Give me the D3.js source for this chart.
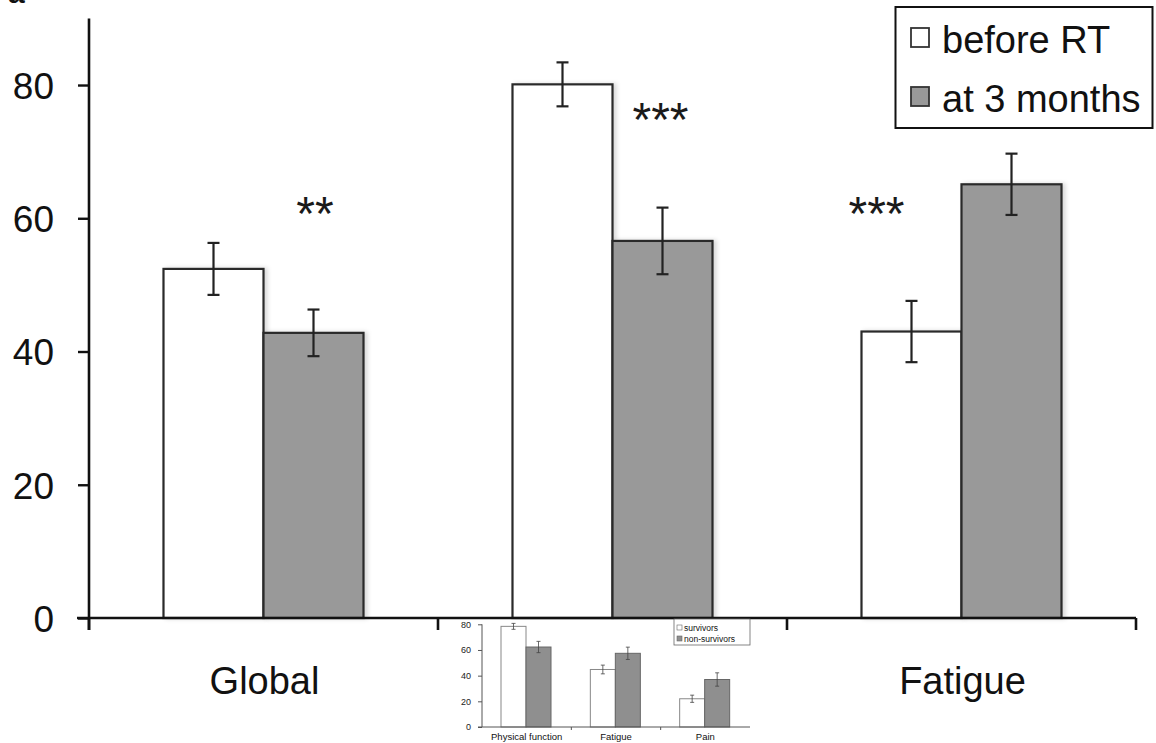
<!DOCTYPE html>
<html><head><meta charset="utf-8">
<script src="https://cdn.jsdelivr.net/npm/d3@7"></script>
<style>html,body{margin:0;padding:0;background:#fff;}svg{display:block;font-family:"Liberation Sans",Arial,sans-serif;}</style>
</head><body>
<script>
// ---- main chart data ----
const categories = ["Global", "Physical function", "Fatigue"];
const seriesNames = ["before RT", "at 3 months"];
const beforeRT = [52.4, 80.1, 43.0];
const beforeErr = [3.9, 3.3, 4.6];
const at3Months = [42.8, 56.6, 65.1];
const at3Err = [3.5, 5.0, 4.6];
const significance = ["**", "***", "***"];
const yTicks = [0, 20, 40, 60, 80];

// ---- inset chart data ----
const insetCategories = ["Physical function", "Fatigue", "Pain"];
const insetSeriesNames = ["survivors", "non-survivors"];
const survivors = [78.4, 44.8, 22.0];
const survivorsErr = [2.3, 3.4, 2.8];
const nonSurvivors = [62.3, 57.4, 37.0];
const nonSurvivorsErr = [4.4, 4.8, 5.2];
const insetTicks = [0, 20, 40, 60, 80];

const W = 1156, H = 743;
const svg = d3.select("body").append("svg").attr("width", W).attr("height", H);

const defs = svg.append("defs");
const f = defs.append("filter").attr("id","sh").attr("x","-10%").attr("y","-10%").attr("width","130%").attr("height","120%");
f.append("feDropShadow").attr("dx",3).attr("dy",0).attr("stdDeviation",2).attr("flood-color","#000").attr("flood-opacity",0.15);

// partial panel letter at top-left (cut off by the top edge, as in the source)
svg.append("text").attr("x", 8).attr("y", 3).attr("font-size", 30).attr("font-weight","bold").attr("fill","#111").text("a");

// ---- main scales ----
const y = d3.scaleLinear().domain([0, 90]).range([618, 18.4]);
const x = d3.scaleBand().domain(categories).range([89, 1136]).paddingInner(0).paddingOuter(0);
const xs = d3.scaleBand().domain(seriesNames).range([74.5, 274.5]).padding(0);
const fills = {"before RT": "#ffffff", "at 3 months": "#999999"};

const rows = categories.map((c, i) => ({c, vals: [
  {s: seriesNames[0], v: beforeRT[i], e: beforeErr[i]},
  {s: seriesNames[1], v: at3Months[i], e: at3Err[i]}]}));

const g = svg.append("g");
const cg = g.selectAll("g.cat").data(rows).join("g").attr("transform", d => `translate(${x(d.c)},0)`);
cg.selectAll("rect").data(d => d.vals).join("rect")
  .attr("x", d => xs(d.s)).attr("width", xs.bandwidth())
  .attr("y", d => y(d.v)).attr("height", d => y(0) - y(d.v))
  .attr("fill", d => fills[d.s]).attr("stroke", "#2a2a2a").attr("stroke-width", 2.2)
  .attr("filter", "url(#sh)");
// error bars
const eb = cg.selectAll("g.eb").data(d => d.vals).join("g")
  .attr("transform", d => `translate(${xs(d.s) + xs.bandwidth()/2},0)`)
  .attr("stroke", "#222").attr("stroke-width", 2.2);
eb.append("line").attr("y1", d => y(d.v + d.e)).attr("y2", d => y(d.v - d.e));
eb.append("line").attr("x1", -6).attr("x2", 6).attr("y1", d => y(d.v + d.e)).attr("y2", d => y(d.v + d.e));
eb.append("line").attr("x1", -6).attr("x2", 6).attr("y1", d => y(d.v - d.e)).attr("y2", d => y(d.v - d.e));

// significance stars (label anchor: offset in band, baseline in data units)
const starDx = [226, 222.5, 89.5];
const starBase = [58.3, 72.4, 58.3];
g.selectAll("text.sig").data(significance).join("text").attr("class","sig")
  .attr("x", (d, i) => x(categories[i]) + starDx[i])
  .attr("y", (d, i) => y(starBase[i]))
  .attr("text-anchor", "middle").attr("font-size", 48).attr("fill", "#1a1a1a")
  .attr("font-family", "'Liberation Sans',Arial,sans-serif")
  .text(d => d);

// axes
const yAxis = d3.axisLeft(y).tickValues(yTicks).tickSize(11).tickPadding(24).tickFormat(d3.format("d"));
const ya = svg.append("g").attr("transform", "translate(89,0)").call(yAxis);
ya.select(".domain").attr("stroke", "#111").attr("stroke-width", 2.6).attr("d", `M0,${y(90)}V${y(0)+12}`);
ya.selectAll(".tick line").attr("stroke", "#111").attr("stroke-width", 2.4);
ya.selectAll(".tick text").attr("font-size", 37).attr("fill", "#111").attr("font-family", "'Liberation Sans',Arial,sans-serif").attr("dy", "0.36em");

const xAxis = d3.axisBottom(x).tickSize(0).tickFormat("");
const xa = svg.append("g").attr("transform", `translate(0,${y(0)})`).call(xAxis);
xa.select(".domain").attr("stroke", "#111").attr("stroke-width", 2.6).attr("d", "M77,0H1136");
const bTicks = [x.range()[0]].concat(categories.map(c => x(c) + x.bandwidth()));
xa.selectAll("line.bt").data(bTicks).join("line").attr("class","bt")
  .attr("x1", d => d).attr("x2", d => d).attr("y1", 0).attr("y2", 12)
  .attr("stroke", "#111").attr("stroke-width", 2.6);
svg.selectAll("text.cat").data(categories).join("text").attr("class","cat")
  .attr("x", d => x(d) + x.bandwidth()/2 + 1).attr("y", 694)
  .attr("text-anchor","middle").attr("font-size", 38).attr("fill","#111").text(d => d);

// legend
const lg = svg.append("g");
lg.append("rect").attr("x", 895.5).attr("y", 7).attr("width", 257).attr("height", 121)
  .attr("fill", "#fff").attr("stroke", "#111").attr("stroke-width", 2);
const li = lg.selectAll("g.li").data(seriesNames).join("g").attr("transform", (d, i) => `translate(911,${28 + i*59})`);
li.append("rect").attr("width", 18).attr("height", 19).attr("fill", d => fills[d]).attr("stroke", "#333").attr("stroke-width", 1.8);
li.append("text").attr("x", 31).attr("y", 25).attr("font-size", 38).attr("fill","#111").text(d => d);

// ---- inset ----
const ins = svg.append("g");
ins.append("rect").attr("x", 440).attr("y", 620).attr("width", 330).attr("height", 123).attr("fill", "#fff");
const iy = d3.scaleLinear().domain([0, 80]).range([727, 624.3]);
const ix = d3.scaleBand().domain(insetCategories).range([482, 750]).padding(0);
const ixs = d3.scaleBand().domain(insetSeriesNames).range([19, 69]).padding(0);
const ifills = {"survivors": "#ffffff", "non-survivors": "#8f8f8f"};
const istroke = {"survivors": "#888", "non-survivors": "#666"};
const irows = insetCategories.map((c, i) => ({c, vals: [
  {s: insetSeriesNames[0], v: survivors[i], e: survivorsErr[i]},
  {s: insetSeriesNames[1], v: nonSurvivors[i], e: nonSurvivorsErr[i]}]}));
const icg = ins.selectAll("g.icat").data(irows).join("g").attr("transform", d => `translate(${ix(d.c)},0)`);
icg.selectAll("rect").data(d => d.vals).join("rect")
  .attr("x", d => ixs(d.s)).attr("width", ixs.bandwidth())
  .attr("y", d => iy(d.v)).attr("height", d => iy(0) - iy(d.v))
  .attr("fill", d => ifills[d.s]).attr("stroke", d => istroke[d.s]).attr("stroke-width", 1);
const ieb = icg.selectAll("g.ieb").data(d => d.vals).join("g")
  .attr("transform", d => `translate(${ixs(d.s) + ixs.bandwidth()/2},0)`)
  .attr("stroke", "#444").attr("stroke-width", 0.8);
ieb.append("line").attr("y1", d => iy(d.v + d.e)).attr("y2", d => iy(d.v - d.e));
ieb.append("line").attr("x1", -2).attr("x2", 2).attr("y1", d => iy(d.v + d.e)).attr("y2", d => iy(d.v + d.e));
ieb.append("line").attr("x1", -2).attr("x2", 2).attr("y1", d => iy(d.v - d.e)).attr("y2", d => iy(d.v - d.e));

const iya = ins.append("g").attr("transform", "translate(482,0)")
  .call(d3.axisLeft(iy).tickValues(insetTicks).tickSize(4).tickPadding(7).tickFormat(d3.format("d")));
iya.select(".domain").attr("stroke", "#555").attr("stroke-width", 1).attr("d", `M0,${iy(80)}V${iy(0)}`);
iya.selectAll(".tick line").attr("stroke", "#555");
iya.selectAll(".tick text").attr("font-size", 9).attr("fill", "#222").attr("font-family", "'Liberation Sans',Arial,sans-serif");
ins.append("line").attr("x1", 478).attr("x2", 750).attr("y1", iy(0)).attr("y2", iy(0)).attr("stroke", "#555").attr("stroke-width", 1);
ins.selectAll("line.ibt").data(insetCategories.slice(0, 2)).join("line").attr("class","ibt")
  .attr("x1", d => ix(d) + ix.bandwidth()).attr("x2", d => ix(d) + ix.bandwidth())
  .attr("y1", iy(0)).attr("y2", iy(0) + 3).attr("stroke", "#555");
ins.selectAll("text.icat").data(insetCategories).join("text").attr("class","icat")
  .attr("x", d => ix(d) + ix.bandwidth()/2).attr("y", 740)
  .attr("text-anchor", "middle").attr("font-size", 9.5).attr("fill", "#111").text(d => d);

const ilg = ins.append("g");
ilg.append("rect").attr("x", 674).attr("y", 619).attr("width", 76).attr("height", 26)
  .attr("fill", "#fff").attr("stroke", "#666").attr("stroke-width", 0.8);
const ili = ilg.selectAll("g").data(insetSeriesNames).join("g").attr("transform", (d, i) => `translate(677,${625 + i*11})`);
ili.append("rect").attr("width", 5).attr("height", 5).attr("fill", d => ifills[d]).attr("stroke", "#666").attr("stroke-width", 0.6);
ili.append("text").attr("x", 7).attr("y", 5.5).attr("font-size", 8.5).attr("fill", "#111").text(d => d);
</script>
</body></html>
